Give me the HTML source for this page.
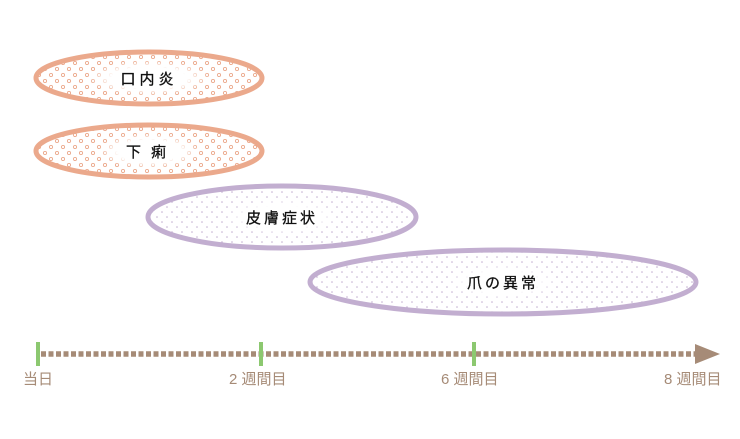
<!DOCTYPE html>
<html><head><meta charset="utf-8"><style>
body{margin:0;background:#fff;}
svg text{font-family:"Liberation Sans","Noto Sans CJK JP",sans-serif;}
</style></head><body>
<svg width="740" height="434" viewBox="0 0 740 434" xmlns="http://www.w3.org/2000/svg">
<defs>
<pattern id="po" width="12" height="12" patternUnits="userSpaceOnUse">
<circle cx="3" cy="3" r="1.6" fill="none" stroke="#eba98c" stroke-width="0.9"/>
<circle cx="9" cy="9" r="1.6" fill="none" stroke="#eba98c" stroke-width="0.9"/>
</pattern>
<pattern id="pp" width="10" height="10" patternUnits="userSpaceOnUse">
<circle cx="2" cy="2" r="0.8" fill="#c2aed0"/>
<circle cx="7" cy="7" r="0.8" fill="#c2aed0"/>
</pattern>
<radialGradient id="wg">
<stop offset="0" stop-color="#fff" stop-opacity="1"/>
<stop offset="0.6" stop-color="#fff" stop-opacity="1"/>
<stop offset="1" stop-color="#fff" stop-opacity="0"/>
</radialGradient>
</defs>
<ellipse cx="149" cy="78" rx="113" ry="26" fill="url(#po)" stroke="#eba98c" stroke-width="5"/>
<ellipse cx="149" cy="151" rx="113" ry="26" fill="url(#po)" stroke="#eba98c" stroke-width="5"/>
<ellipse cx="282" cy="217" rx="134" ry="31" fill="url(#pp)" stroke="#c2aed0" stroke-width="5"/>
<ellipse cx="503" cy="282" rx="193" ry="32" fill="url(#pp)" stroke="#c2aed0" stroke-width="5"/>
<ellipse cx="149" cy="78" rx="62" ry="18" fill="url(#wg)"/>
<ellipse cx="149" cy="151" rx="52" ry="18" fill="url(#wg)"/>
<ellipse cx="282" cy="217" rx="58" ry="18" fill="url(#wg)"/>
<ellipse cx="503" cy="282" rx="56" ry="18" fill="url(#wg)"/>
<g font-size="15" fill="#111" text-anchor="middle" stroke="#111" stroke-width="0.3">
<text x="149" y="84" letter-spacing="4">口内炎</text>
<text x="151" y="157" letter-spacing="10">下痢</text>
<text x="282" y="223" letter-spacing="3">皮膚症状</text>
<text x="503" y="288" letter-spacing="3">爪の異常</text>
</g>
<line x1="41" y1="354" x2="697" y2="354" stroke="#a68b77" stroke-width="5.5" stroke-dasharray="5 2.5"/>
<polygon points="695,344 720,354 695,364" fill="#a68b77"/>
<rect x="36" y="342" width="4" height="24" fill="#8cc870"/>
<rect x="259" y="342" width="4" height="24" fill="#8cc870"/>
<rect x="472" y="342" width="4" height="24" fill="#8cc870"/>
<g font-size="15" fill="#a68b77">
<text x="23" y="384">当日</text>
<text x="229" y="384">2 週間目</text>
<text x="441" y="384">6 週間目</text>
<text x="664" y="384">8 週間目</text>
</g>
</svg>
</body></html>
